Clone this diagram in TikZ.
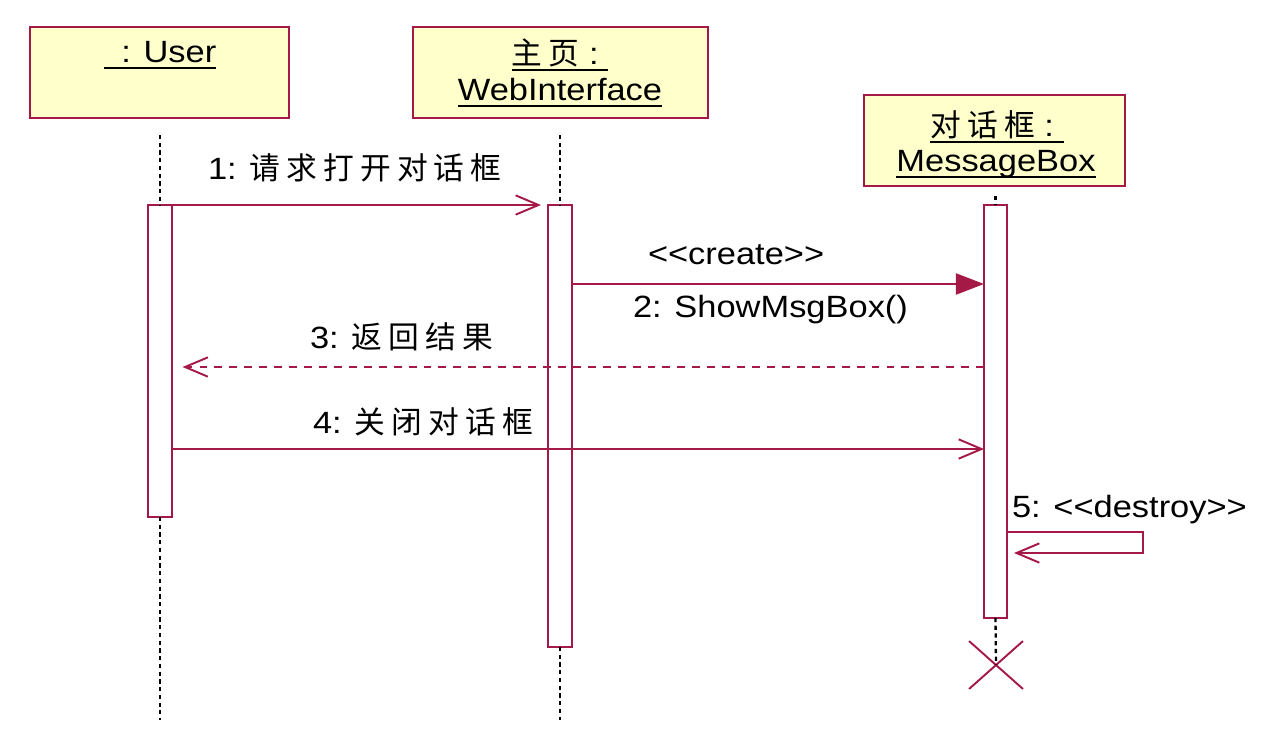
\documentclass[tikz,border=0pt]{standalone}
\usepackage{fontspec}
\setmainfont{Liberation Sans}[FakeStretch=1.12]
\newfontfamily\cjk{Noto Sans CJK SC}[LetterSpace=20]
\usetikzlibrary{arrows.meta,shapes.misc}
\definecolor{umlred}{RGB}{165,25,70}
\definecolor{umlfill}{RGB}{255,255,204}
\newsavebox\ulbox
\newcommand\myul[1]{\sbox\ulbox{#1}\rlap{\usebox\ulbox}\raisebox{-3.6pt}{\rule{\wd\ulbox}{1.2pt}}}
\tikzset{
  objbox/.style={draw=umlred, fill=umlfill, line width=1.5pt, inner sep=0pt, outer sep=0pt, minimum height=1.82cm},
  actbar/.style={draw=umlred, fill=white, line width=1.2pt, inner sep=0pt, outer sep=0pt},
  lifeline/.style={draw=black, line width=1.3pt, dash pattern=on 2.4pt off 2pt},
  txt/.style={inner sep=0pt, outer sep=0pt, font=\fontsize{17.5}{21}\selectfont, text=black},
  msg/.style={draw=umlred, line width=1.1pt, -{Straight Barb[length=13pt,width=11pt]}},
  createmsg/.style={draw=umlred, line width=1.1pt, -{Triangle[length=16pt,width=12pt]}},
  retmsg/.style={draw=umlred, line width=1.1pt, dash pattern=on 4.5pt off 4pt, -{Straight Barb[length=13pt,width=11pt]}},
}
\begin{document}
\begin{tikzpicture}[x=0.02cm, y=-0.02cm]
\useasboundingbox (0,0) rectangle (1274,741);
% object boxes
\node[objbox, minimum width=5.18cm] (user) at (159.5,72.5) {};
\node[objbox, minimum width=5.9cm] (web) at (560.5,72.5) {};
\node[objbox, minimum width=5.22cm] (msgb) at (994.5,140.5) {};
\node[txt] (usert) at (160,55) {\myul{\hspace{10pt}: User}};
\node[txt] (webt1) at (560,55) {\myul{{\cjk 主页}\ :\ }};
\node[txt] (webt2) at (560,93) {\myul{WebInterface}};
\node[txt] (msgt1) at (997,127) {\myul{{\cjk 对话框}\ :\ }};
\node[txt] (msgt2) at (996,164) {\myul{MessageBox}};
% activation bars
\node[actbar, minimum width=0.48cm, minimum height=6.24cm] (ubar) at (160,361) {};
\node[actbar, minimum width=0.48cm, minimum height=8.84cm] (wbar) at (560,426) {};
\node[actbar, minimum width=0.46cm, minimum height=8.26cm] (mbar) at (995.5,411.5) {};
% destruction mark
\node[cross out, draw=umlred, line width=1.1pt, minimum width=1.04cm, minimum height=0.92cm, inner sep=0pt] (xmark) at (996,665) {};
% lifelines
\coordinate (ul0) at (160,135);
\coordinate (ul1) at (160,720);
\coordinate (wl0) at (560,135);
\coordinate (wl1) at (560,720);
\coordinate (ml0) at (995.5,196);
\draw[lifeline] (ul0) -- (ubar.north);
\draw[lifeline] (ubar.south) -- (ul1);
\draw[lifeline] (wl0) -- (wbar.north);
\draw[lifeline] (wbar.south) -- (wl1);
\draw[lifeline] (ml0) -- (mbar.north);
\draw[lifeline] (mbar.south) -- (xmark.center);
% message heights
\coordinate (m1) at (0,205);
\coordinate (m2) at (0,284);
\coordinate (m3) at (0,367);
\coordinate (m4) at (0,449);
\coordinate (s1) at (1143,532);
\coordinate (s2) at (1143,553);
% messages
\draw[msg] (ubar.east |- m1) -- ([xshift=-4]wbar.west |- m1);
\draw[createmsg] (wbar.east |- m2) -- (mbar.west |- m2);
\draw[retmsg] (mbar.west |- m3) -- ([xshift=6]ubar.east |- m3);
\draw[msg] (ubar.east |- m4) -- (mbar.west |- m4);
\draw[msg] (mbar.east |- s1) -- (s1) -- (s2) -- ([xshift=4]mbar.east |- s2);
% labels
\node[txt, anchor=west] (l1) at (208,168) {1: {\cjk 请求打开对话框}};
\node[txt, anchor=west] (l2a) at (648,255) {<\kern0pt<create>\kern0pt>};
\node[txt, anchor=west] (l2b) at (633,310) {2: ShowMsgBox()};
\node[txt, anchor=west] (l3) at (310,337) {3: {\cjk 返回结果}};
\node[txt, anchor=west] (l4) at (313,422) {4: {\cjk 关闭对话框}};
\node[txt, anchor=west] (l5) at (1012,510) {5: <\kern0pt<destroy>\kern0pt>};
\end{tikzpicture}
\end{document}
